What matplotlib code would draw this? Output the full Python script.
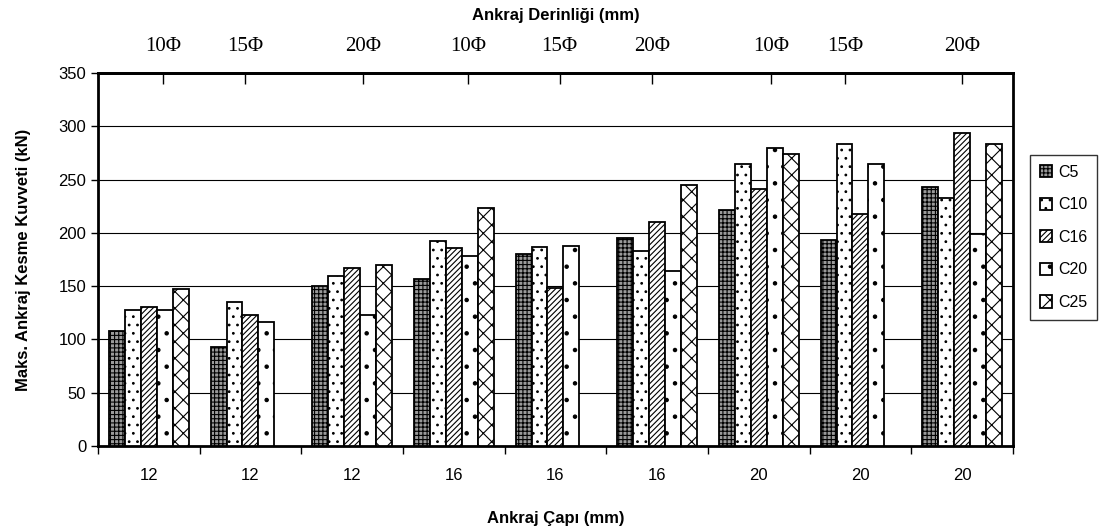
import numpy as np
import matplotlib
matplotlib.use('Agg')
import matplotlib.pyplot as plt

plt.rcParams['font.family'] = ['Liberation Sans', 'DejaVu Sans']
plt.rcParams['hatch.linewidth'] = 0.8

# Ankraj çapı (alt eksen) ve derinliği (üst eksen)
capi = ['12', '12', '12', '16', '16', '16', '20', '20', '20']
derinlik = ['10Φ', '15Φ', '20Φ', '10Φ', '15Φ', '20Φ', '10Φ', '15Φ', '20Φ']
derinlik_konum = [0.64, 1.45, 2.61, 3.64, 4.54, 5.45, 6.62, 7.35, 8.5]

# Beton sınıfına göre maksimum kesme kuvvetleri (kN)
C5 = [108, 93, 150, 157, 180, 195, 221, 193, 243]
C10 = [128, 135, 160, 192, 187, 183, 265, 283, 233]
C16 = [130, 123, 167, 186, 148, 210, 241, 218, 294]
C20 = [128, 116, 123, 178, 188, 164, 280, 265, 199]
C25 = [147, np.nan, 170, 223, np.nan, 245, 274, np.nan, 283]

seriler = [('C5', C5), ('C10', C10), ('C16', C16), ('C20', C20), ('C25', C25)]
stiller = [
    dict(facecolor='#9a9a9a', hatch='++++'),
    dict(facecolor='white', hatch='..'),
    dict(facecolor='white', hatch='//////'),
    dict(facecolor='white', hatch='.'),
    dict(facecolor='white', hatch='xx'),
]

fig = plt.figure(figsize=(11.02, 5.31), dpi=100)
ax = fig.add_axes([0.0889, 0.160, 0.8303, 0.7025])

x = np.arange(len(capi)) + 0.5
w = 0.157
for j, ((ad, deger), stil) in enumerate(zip(seriler, stiller)):
    ax.bar(x + (j - 2) * w, deger, w, label=ad, edgecolor='black',
           linewidth=1.3, zorder=3, **stil)

ax.set_xlim(0, len(capi))
ax.set_ylim(0, 350)
ax.set_yticks(np.arange(0, 351, 50))
ax.yaxis.grid(True, color='black', linewidth=0.8, zorder=0)
ax.tick_params(axis='y', labelsize=12, length=5, width=1)

ax.set_xticks(np.arange(0, len(capi) + 1), minor=False)
ax.set_xticklabels([])
ax.set_xticks(x, minor=True)
ax.set_xticklabels(capi, minor=True, fontsize=12)
ax.tick_params(axis='x', which='major', length=6, width=1)
ax.tick_params(axis='x', which='minor', length=0, pad=16)

for s in ax.spines.values():
    s.set_linewidth(2)

ax.set_xlabel('Ankraj Çapı (mm)', fontsize=12, fontweight='bold', labelpad=20)
ax.set_ylabel('Maks. Ankraj Kesme Kuvveti (kN)', fontsize=12,
              fontweight='bold', labelpad=20)

# Üst eksen: ankraj derinliği
ust = ax.secondary_xaxis('top')
ust.set_xticks(derinlik_konum)
ust.set_xticklabels(derinlik, fontsize=15, family='Liberation Serif')
ust.tick_params(direction='in', length=8, width=1, pad=12)
ust.spines['top'].set_linewidth(2)
fig.text(0.504, 0.97, 'Ankraj Derinliği (mm)', ha='center', va='center',
         fontsize=12, fontweight='bold')

leg = fig.legend(loc='center left', bbox_to_anchor=(0.9347, 0.553),
                 borderaxespad=0, fontsize=11.5, frameon=True, fancybox=False,
                 handlelength=0.8, handleheight=0.8, handletextpad=0.35,
                 labelspacing=1.1, borderpad=0.6)
leg.get_frame().set_edgecolor('black')
leg.get_frame().set_linewidth(1)

fig.savefig('out.png', dpi=100)
